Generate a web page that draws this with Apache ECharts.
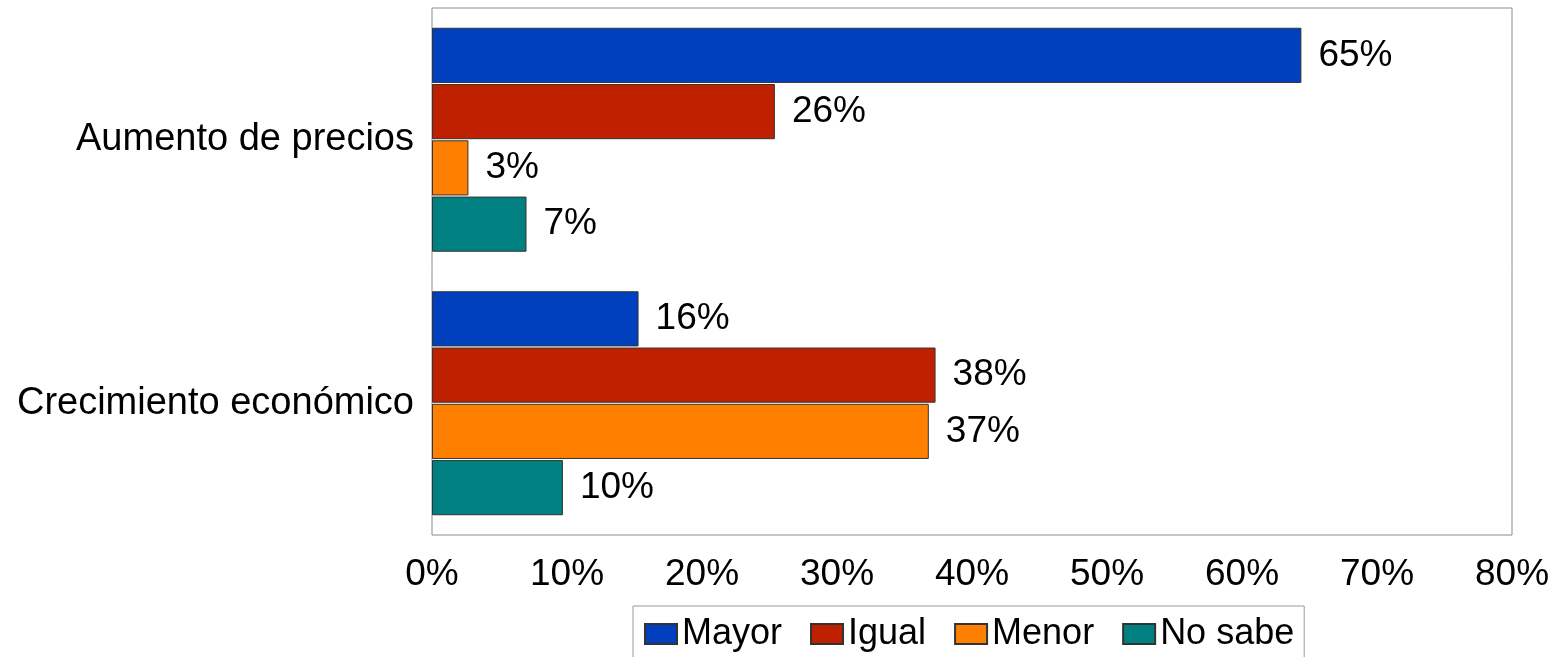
<!DOCTYPE html>
<html>
<head>
<meta charset="utf-8">
<title>Aumento de precios / Crecimiento económico</title>
<script src="https://cdn.jsdelivr.net/npm/echarts@6/dist/echarts.min.js"></script>
<style>
  html, body { margin: 0; padding: 0; background: #fff; }
  #chart { width: 1561px; height: 657px; }
</style>
</head>
<body>
<div id="chart"></div>
<script>
// categories (top to bottom)
const categories = ['Aumento de precios', 'Crecimiento económico']
const seriesNames = ['Mayor', 'Igual', 'Menor', 'No sabe']

// bar lengths (%)
const mayor = [64.4, 15.3]
const igual = [25.4, 37.3]
const menor = [2.7, 36.8]
const noSabe = [7.0, 9.7]

// printed data labels
const mayorLabels = ['65%', '16%']
const igualLabels = ['26%', '38%']
const menorLabels = ['3%', '37%']
const noSabeLabels = ['7%', '10%']

const xTicks = [0, 10, 20, 30, 40, 50, 60, 70, 80]

const colors = ['#0040BF', '#BF2000', '#FF8000', '#008080']
const font = 'Liberation Sans, Arial, sans-serif'

const values = [mayor, igual, menor, noSabe]
const labels = [mayorLabels, igualLabels, menorLabels, noSabeLabels]

const chart = echarts.init(document.getElementById('chart'), null, { renderer: 'canvas' })

const series = seriesNames.map((name, i) => ({
  name: name,
  type: 'bar',
  data: values[i],
  barCategoryGap: '15%',
  barGap: '2%',
  itemStyle: {
    color: colors[i],
    borderColor: '#333',
    borderWidth: 1
  },
  label: {
    show: true,
    position: 'right',
    distance: 17,
    color: '#000',
    fontFamily: font,
    fontSize: 37,
    formatter: p => labels[i][p.dataIndex]
  }
}))

const option = {
  animation: false,
  backgroundColor: '#fff',
  color: colors,
  grid: {
    left: 432,
    right: 49,
    top: 8,
    bottom: 122,
    show: true,
    borderColor: '#8c8c8c',
    borderWidth: 1,
    backgroundColor: '#fff'
  },
  legend: {
    data: seriesNames,
    icon: 'rect',
    left: 633,
    top: 606,
    orient: 'horizontal',
    padding: [10, 10, 16, 11],
    itemWidth: 32,
    itemHeight: 20,
    itemGap: 28,
    borderColor: '#999',
    borderWidth: 1,
    backgroundColor: '#fff',
    textStyle: {
      color: '#000',
      fontFamily: font,
      fontSize: 36
    }
  },
  xAxis: {
    type: 'value',
    min: xTicks[0],
    max: xTicks[xTicks.length - 1],
    interval: 10,
    axisLine: { show: false },
    axisTick: { show: false },
    splitLine: { show: false },
    axisLabel: {
      margin: 21,
      color: '#000',
      fontFamily: font,
      fontSize: 37,
      formatter: '{value}%'
    }
  },
  yAxis: {
    type: 'category',
    data: categories,
    inverse: true,
    axisLine: { show: false },
    axisTick: { show: false },
    splitLine: { show: false },
    axisLabel: {
      margin: 18,
      color: '#000',
      fontFamily: font,
      fontSize: 38
    }
  },
  series: series
}

chart.setOption(option)
window.addEventListener('resize', chart.resize)
</script>
</body>
</html>
